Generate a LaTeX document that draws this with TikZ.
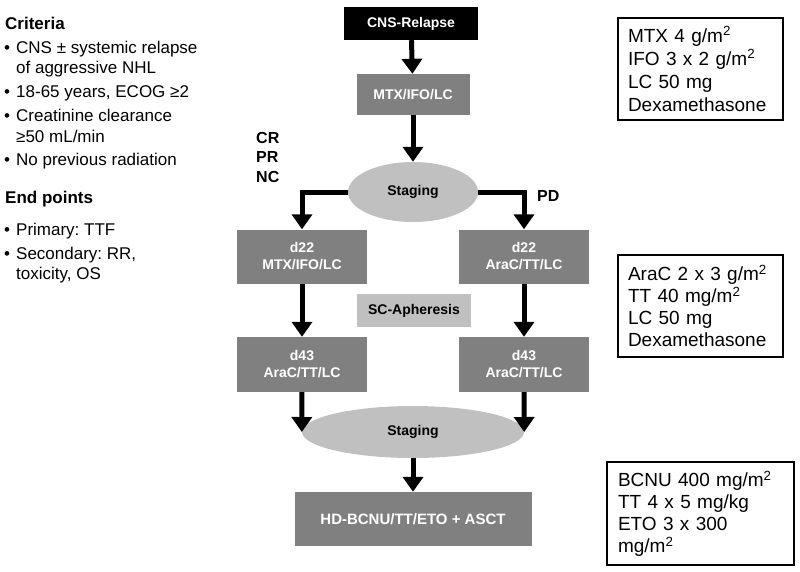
\documentclass[tikz,border=0pt]{standalone}
\usepackage{fontspec}
\setmainfont{Liberation Sans}
\frenchspacing
\usetikzlibrary{positioning}
\usetikzlibrary{shapes.geometric}
\usetikzlibrary{arrows.meta}
\definecolor{box-gray}{HTML}{808080}
\definecolor{oval-gray}{HTML}{C0C0C0}
\tikzset{
  stepbox/.style 2 args={
    rectangle,
    fill=box-gray,
    text=white,
    font=\fontsize{14}{17}\selectfont\bfseries,
    align=center,
    minimum width=#1,
    minimum height=#2,
    inner sep=0pt},
  oval/.style 2 args={
    ellipse,
    fill=oval-gray,
    font=\fontsize{14}{17}\selectfont\bfseries,
    minimum width=#1,
    minimum height=#2,
    inner sep=0pt},
  dose/.style 2 args={
    draw,
    line width=1.5pt,
    align=left,
    font=\fontsize{19}{#2}\selectfont,
    text width=#1},
}

\begin{document}
\begin{tikzpicture}[
  x=1pt, y=-1pt,
  arr/.style={line width=5pt, -{Triangle[length=15pt,width=20pt]}},
  txt/.style={anchor=base west, inner sep=0pt, font=\fontsize{17}{20}\selectfont}]
  \useasboundingbox (0,0) rectangle (800,571);

  % left column: criteria and end points
  \node[txt, font=\fontsize{17}{20}\selectfont\bfseries] (crit) at (5,29) {Criteria};
  \node[txt, font=\fontsize{17}{20}\selectfont\bfseries] (endp) at (5,203) {End points};
  \foreach \t/\y [count=\i] in {{CNS ± systemic relapse}/53,{18-65 years, ECOG ≥2}/97,
      {Creatinine clearance}/121,{No previous radiation}/165,{Primary: TTF}/235,{Secondary: RR,}/259} {
    \node[txt] (bul\i) at (4,\y) {•};
    \node[txt] (item\i) at (16,\y) {\t};
  }
  \foreach \t/\y [count=\i] in {{of aggressive NHL}/73,{≥50 mL/min}/142,{toxicity, OS}/279} {
    \node[txt] (cont\i) at (16,\y) {\t};
  }

  % main flow
  \node[stepbox={134pt}{33pt}, fill=black] (cns) at (411,23.5) {CNS-Relapse};
  \node[stepbox={113pt}{41pt}] (mtx) at (413,94.5) {MTX/IFO/LC};
  \node[oval={130pt}{60pt}] (stage1) at (413,192) {Staging};
  \node[txt, font=\fontsize{16}{19.5}\selectfont\bfseries, align=left] (resp) at (256,182) {CR\\PR\\NC};
  \node[txt, font=\fontsize{16}{19.5}\selectfont\bfseries] (prog) at (537,201) {PD};
  \foreach \side/\x/\drugs in {l/302/{MTX/IFO/LC},r/524/{AraC/TT/LC}} {
    \node[stepbox={130pt}{54pt}] (d22\side) at (\x,256.5) {d22\\\drugs};
    \node[stepbox={130pt}{55pt}] (d43\side) at (\x,364.5) {d43\\AraC/TT/LC};
    \draw[arr] (d22\side) -- (d43\side);
  }
  \node[stepbox={114pt}{33pt}, fill=oval-gray, text=black] (apher) at (414,310.5) {SC-Apheresis};
  \node[oval={222pt}{52pt}] (stage2) at (413,432) {Staging};
  \node[stepbox={237pt}{54pt}, font=\fontsize{15}{18}\selectfont\bfseries] (hd) at (413,519) {HD-BCNU/TT/ETO + ASCT};

  \draw[arr] (cns) -- (mtx);
  \draw[arr] (mtx) -- (stage1);
  \draw[arr] (stage1.west) -| (d22l.north);
  \draw[arr] (stage1.east) -| (d22r.north);
  \draw[arr] (d43l) -- (stage2.west);
  \draw[arr] (d43r) -- (stage2.east);
  \draw[arr] (stage2) -- (hd);

  % dosing boxes
  \node[dose={145pt}{23pt}, minimum width=165pt, minimum height=102pt] (dose1) at (700.5,69)
    {MTX 4 g/m\textsuperscript{2}\\IFO 3 x 2 g/m\textsuperscript{2}\\LC 50 mg\\Dexamethasone};
  \node[dose={145pt}{22pt}, minimum width=165pt, minimum height=102pt] (dose2) at (700.5,306)
    {AraC 2 x 3 g/m\textsuperscript{2}\\TT 40 mg/m\textsuperscript{2}\\LC 50 mg\\Dexamethasone};
  \node[dose={165pt}{22pt}, minimum width=187pt, minimum height=103pt] (dose3) at (700.5,513.5)
    {BCNU 400 mg/m\textsuperscript{2}\\TT 4 x 5 mg/kg\\ETO 3 x 300\\mg/m\textsuperscript{2}};
\end{tikzpicture}
\end{document}
